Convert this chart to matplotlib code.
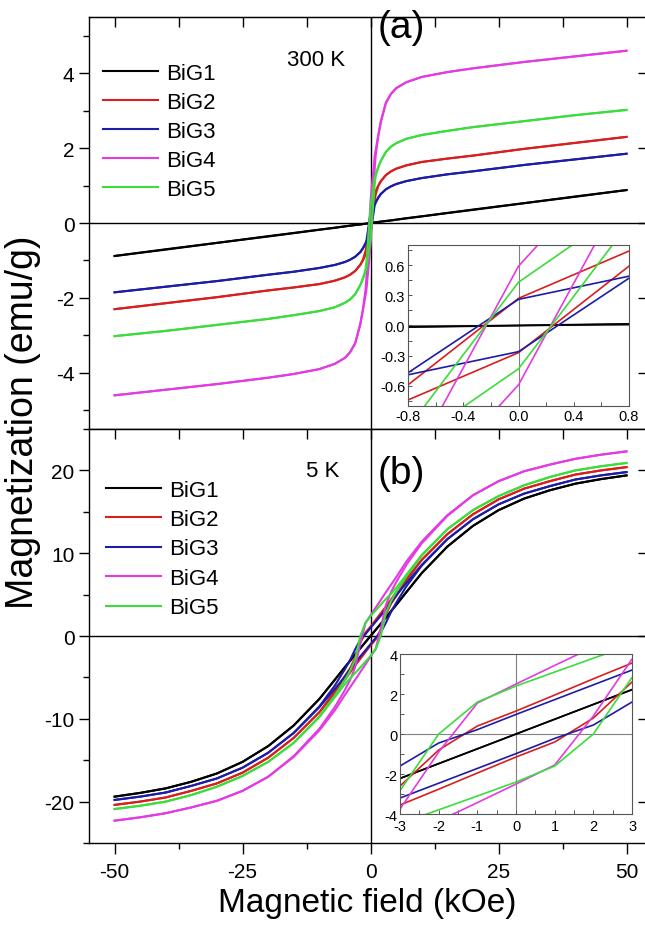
import numpy as np
import matplotlib.pyplot as plt
from matplotlib.ticker import MultipleLocator

plt.rcParams['font.family'] = ['Liberation Sans', 'DejaVu Sans']
plt.rcParams['axes.unicode_minus'] = False

names = ["BiG1", "BiG2", "BiG3", "BiG4", "BiG5"]
colors = ["black", "#d81e1e", "#1c1ca6", "#e23be2", "#3cdc3c"]

# 300 K, field sweep +50 -> -50 kOe (descending); ascending branch uses the reversed field list
H_300 = [50, 40, 30, 20, 15, 10, 7, 5, 4, 3, 2, 1.5, 1, 0.8, 0.4, 0,
         -0.4, -0.8, -1, -1.5, -2, -3, -4, -5, -7, -10, -15, -20, -30, -40, -50]

M300_desc = [
    [0.88, 0.71, 0.53, 0.36, 0.27, 0.18, 0.13, 0.09, 0.07, 0.055, 0.04, 0.03, 0.02, 0.016, 0.009, 0.002,
     -0.006, -0.013, -0.017, -0.026, -0.035, -0.053, -0.07, -0.088, -0.123, -0.176, -0.265, -0.35, -0.53, -0.70, -0.88],
    [2.30, 2.14, 1.98, 1.80, 1.72, 1.63, 1.54, 1.45, 1.38, 1.28, 1.12, 1.0, 0.86, 0.74, 0.505, 0.27,
     -0.16, -0.59, -0.76, -0.98, -1.11, -1.28, -1.38, -1.45, -1.54, -1.63, -1.72, -1.80, -1.98, -2.14, -2.30],
    [1.85, 1.70, 1.55, 1.38, 1.30, 1.20, 1.12, 1.04, 0.98, 0.90, 0.78, 0.68, 0.56, 0.49, 0.375, 0.26,
     -0.105, -0.47, -0.54, -0.67, -0.77, -0.90, -0.98, -1.04, -1.12, -1.20, -1.30, -1.38, -1.55, -1.70, -1.85],
    [4.60, 4.45, 4.30, 4.13, 4.03, 3.90, 3.76, 3.60, 3.45, 3.22, 2.72, 2.35, 1.95, 1.78, 1.19, 0.59,
     -0.42, -1.43, -1.80, -2.30, -2.68, -3.20, -3.45, -3.60, -3.76, -3.90, -4.03, -4.13, -4.30, -4.45, -4.60],
    [3.02, 2.88, 2.72, 2.56, 2.46, 2.35, 2.25, 2.13, 2.04, 1.90, 1.66, 1.50, 1.30, 1.20, 0.81, 0.43,
     -0.29, -1.02, -1.25, -1.48, -1.65, -1.90, -2.04, -2.13, -2.25, -2.35, -2.46, -2.56, -2.72, -2.88, -3.02],
]
M300_asc = [
    [-0.88, -0.71, -0.53, -0.36, -0.27, -0.18, -0.13, -0.09, -0.07, -0.055, -0.04, -0.03, -0.02, -0.016, -0.009, -0.002,
     0.006, 0.013, 0.017, 0.026, 0.035, 0.053, 0.07, 0.088, 0.123, 0.176, 0.265, 0.35, 0.53, 0.70, 0.88],
    [-2.30, -2.14, -1.98, -1.80, -1.72, -1.63, -1.54, -1.45, -1.38, -1.28, -1.12, -1.0, -0.86, -0.74, -0.505, -0.27,
     0.16, 0.59, 0.76, 0.98, 1.11, 1.28, 1.38, 1.45, 1.54, 1.63, 1.72, 1.80, 1.98, 2.14, 2.30],
    [-1.85, -1.70, -1.55, -1.38, -1.30, -1.20, -1.12, -1.04, -0.98, -0.90, -0.78, -0.68, -0.56, -0.49, -0.375, -0.26,
     0.105, 0.47, 0.54, 0.67, 0.77, 0.90, 0.98, 1.04, 1.12, 1.20, 1.30, 1.38, 1.55, 1.70, 1.85],
    [-4.60, -4.45, -4.30, -4.13, -4.03, -3.90, -3.76, -3.60, -3.45, -3.22, -2.72, -2.35, -1.95, -1.78, -1.19, -0.59,
     0.42, 1.43, 1.80, 2.30, 2.68, 3.20, 3.45, 3.60, 3.76, 3.90, 4.03, 4.13, 4.30, 4.45, 4.60],
    [-3.02, -2.88, -2.72, -2.56, -2.46, -2.35, -2.25, -2.13, -2.04, -1.90, -1.66, -1.50, -1.30, -1.20, -0.81, -0.43,
     0.29, 1.02, 1.25, 1.48, 1.65, 1.90, 2.04, 2.13, 2.25, 2.35, 2.46, 2.56, 2.72, 2.88, 3.02],
]

# 5 K
H_5 = [50, 45, 40, 35, 30, 25, 20, 15, 10, 7, 5, 4, 3, 2, 1, 0,
       -1, -2, -3, -4, -5, -7, -10, -15, -20, -25, -30, -35, -40, -45, -50]

M5_desc = [
    [19.4, 18.95, 18.4, 17.6, 16.6, 15.2, 13.3, 10.8, 7.6, 5.3, 3.75, 3.0, 2.22, 1.48, 0.74, 0.0,
     -0.74, -1.48, -2.22, -3.0, -3.75, -5.3, -7.6, -10.8, -13.3, -15.2, -16.6, -17.6, -18.4, -18.95, -19.4],
    [20.4, 20.0, 19.5, 18.7, 17.8, 16.5, 14.7, 12.3, 9.2, 6.9, 5.3, 4.4, 3.55, 2.76, 1.95, 1.15,
     0.4, -0.8, -2.6, -3.9, -4.8, -6.7, -9.2, -12.3, -14.7, -16.5, -17.8, -18.7, -19.5, -20.0, -20.4],
    [19.8, 19.4, 18.9, 18.1, 17.2, 15.9, 14.1, 11.7, 8.6, 6.4, 4.9, 4.05, 3.2, 2.46, 1.72, 0.98,
     0.22, -0.45, -1.6, -2.9, -4.0, -6.0, -8.5, -11.7, -14.1, -15.9, -17.2, -18.1, -18.9, -19.4, -19.8],
    [22.3, 21.9, 21.4, 20.7, 19.9, 18.7, 17.0, 14.6, 11.4, 9.0, 7.1, 6.2, 5.29, 4.35, 3.43, 2.5,
     1.55, -0.9, -3.75, -5.3, -6.5, -8.6, -11.2, -14.5, -17.0, -18.7, -19.9, -20.7, -21.4, -21.9, -22.3],
    [20.9, 20.5, 20.0, 19.2, 18.2, 16.9, 15.2, 12.9, 9.8, 7.4, 5.8, 5.1, 4.48, 3.79, 3.1, 2.4,
     1.6, 0.0, -2.83, -4.2, -5.3, -7.2, -9.7, -12.9, -15.2, -16.9, -18.2, -19.2, -20.0, -20.5, -20.9],
]
M5_asc = [
    [-19.4, -18.95, -18.4, -17.6, -16.6, -15.2, -13.3, -10.8, -7.6, -5.3, -3.75, -3.0, -2.22, -1.48, -0.74, 0.0,
     0.74, 1.48, 2.22, 3.0, 3.75, 5.3, 7.6, 10.8, 13.3, 15.2, 16.6, 17.6, 18.4, 18.95, 19.4],
    [-20.4, -20.0, -19.5, -18.7, -17.8, -16.5, -14.7, -12.3, -9.2, -6.9, -5.3, -4.4, -3.55, -2.76, -1.95, -1.15,
     -0.4, 0.8, 2.6, 3.9, 4.8, 6.7, 9.2, 12.3, 14.7, 16.5, 17.8, 18.7, 19.5, 20.0, 20.4],
    [-19.8, -19.4, -18.9, -18.1, -17.2, -15.9, -14.1, -11.7, -8.6, -6.4, -4.9, -4.05, -3.2, -2.46, -1.72, -0.98,
     -0.22, 0.45, 1.6, 2.9, 4.0, 6.0, 8.5, 11.7, 14.1, 15.9, 17.2, 18.1, 18.9, 19.4, 19.8],
    [-22.3, -21.9, -21.4, -20.7, -19.9, -18.7, -17.0, -14.6, -11.4, -9.0, -7.1, -6.2, -5.29, -4.35, -3.43, -2.5,
     -1.55, 0.9, 3.75, 5.3, 6.5, 8.6, 11.2, 14.5, 17.0, 18.7, 19.9, 20.7, 21.4, 21.9, 22.3],
    [-20.9, -20.5, -20.0, -19.2, -18.2, -16.9, -15.2, -12.9, -9.8, -7.4, -5.8, -5.1, -4.48, -3.79, -3.1, -2.4,
     -1.6, 0.0, 2.83, 4.2, 5.3, 7.2, 9.7, 12.9, 15.2, 16.9, 18.2, 19.2, 20.0, 20.5, 20.9],
]


def draw_loops(ax, H, desc, asc, lw, labels=True):
    for i in range(len(names)):
        ax.plot(H, desc[i], color=colors[i], lw=lw, label=names[i] if labels else None)
        ax.plot(H[::-1], asc[i], color=colors[i], lw=lw)


def style_main(ax, ymaj, ymin):
    ax.set_xlim(-55, 55)
    ax.xaxis.set_major_locator(MultipleLocator(25))
    ax.xaxis.set_minor_locator(MultipleLocator(12.5))
    ax.yaxis.set_major_locator(MultipleLocator(ymaj))
    ax.yaxis.set_minor_locator(MultipleLocator(ymin))
    ax.axhline(0, color='black', lw=1.0, zorder=1)
    ax.axvline(0, color='black', lw=1.0, zorder=1)
    for s in ax.spines.values():
        s.set_linewidth(1.0)
    ax.tick_params(axis='both', which='both', width=1.0, labelsize=15)
    ax.tick_params(axis='y', which='major', direction='out', length=7, left=True, right=False)
    ax.tick_params(axis='y', which='minor', direction='out', length=4, left=True, right=False)
    ax.tick_params(axis='x', which='both', bottom=False, labelbottom=False, top=False)
    sec = ax.secondary_yaxis('right')
    sec.yaxis.set_major_locator(MultipleLocator(ymaj))
    sec.yaxis.set_minor_locator(MultipleLocator(ymin))
    sec.tick_params(which='major', direction='in', length=10, width=1.0, labelright=False)
    sec.tick_params(which='minor', direction='in', length=5, width=1.0)
    top = ax.secondary_xaxis('top')
    top.xaxis.set_major_locator(MultipleLocator(25))
    top.xaxis.set_minor_locator(MultipleLocator(12.5))
    top.tick_params(which='both', direction='in', length=7, width=1.0, labeltop=False)


def style_inset(ax, xlim, ylim, xt, yt, xfmt, yfmt):
    ax.set_xlim(*xlim)
    ax.set_ylim(*ylim)
    ax.set_xticks(xt)
    ax.set_yticks(yt)
    ax.set_xticklabels([xfmt.format(v) for v in xt])
    ax.set_yticklabels([yfmt.format(v) for v in yt])
    ax.axhline(0, color='#808080', lw=0.8, zorder=1)
    ax.axvline(0, color='#808080', lw=0.8, zorder=1)
    for s in ax.spines.values():
        s.set_linewidth(0.8)
        s.set_color('#555555')
    ax.tick_params(axis='both', which='both', direction='in', length=3, width=0.7,
                   labelsize=10.5, pad=2, colors='#555555', labelcolor='black')


fig = plt.figure(figsize=(6.45, 9.29), dpi=100)

ax1 = fig.add_axes([0.138, 0.5371, 0.873, 0.4435])
draw_loops(ax1, H_300, M300_desc, M300_asc, 1.5)
ax1.set_ylim(-5.5, 5.5)
style_main(ax1, 2, 1)
ax1.legend(loc='upper left', bbox_to_anchor=(0.025, 0.888), frameon=False, fontsize=16,
           handlelength=2.48, handletextpad=0.35, labelspacing=0.36, borderpad=0, borderaxespad=0)
ax1.text(0.403, 0.898, "300 K", transform=ax1.transAxes, fontsize=16, ha='center', va='center')
ax1.text(0.513, 0.975, "(a)", transform=ax1.transAxes, fontsize=28, ha='left', va='center')

ax2 = fig.add_axes([0.138, 0.0915, 0.873, 0.4456])
draw_loops(ax2, H_5, M5_desc, M5_asc, 1.5)
ax2.set_ylim(-25, 25)
style_main(ax2, 10, 5)
ax2.tick_params(axis='x', which='major', direction='out', length=8, bottom=True, labelbottom=True, pad=6)
ax2.tick_params(axis='x', which='minor', direction='out', length=4, bottom=True)
ax2.set_xticks([-50, -25, 0, 25, 50])
ax2.legend(loc='upper left', bbox_to_anchor=(0.03, 0.878), frameon=False, fontsize=16,
           handlelength=2.48, handletextpad=0.35, labelspacing=0.38, borderpad=0, borderaxespad=0)
ax2.text(0.415, 0.899, "5 K", transform=ax2.transAxes, fontsize=16, ha='center', va='center')
ax2.text(0.513, 0.895, "(b)", transform=ax2.transAxes, fontsize=28, ha='left', va='center')

fig.text(0.035, 0.545, "Magnetization (emu/g)", rotation=90, fontsize=27, ha='center', va='center')
fig.text(0.57, 0.027, "Magnetic field (kOe)", fontsize=24, ha='center', va='center')

ins1 = fig.add_axes([0.6326, 0.5619, 0.3426, 0.1733])
draw_loops(ins1, H_300, M300_desc, M300_asc, 1.2, labels=False)
style_inset(ins1, (-0.8, 0.8), (-0.8, 0.8), [-0.8, -0.4, 0.0, 0.4, 0.8],
            [-0.6, -0.3, 0.0, 0.3, 0.6], "{:.1f}", "{:.1f}")
ins1.xaxis.set_minor_locator(MultipleLocator(0.2))
ins1.yaxis.set_minor_locator(MultipleLocator(0.15))

ins2 = fig.add_axes([0.6202, 0.1227, 0.3597, 0.1722])
draw_loops(ins2, H_5, M5_desc, M5_asc, 1.2, labels=False)
style_inset(ins2, (-3, 3), (-4, 4), [-3, -2, -1, 0, 1, 2, 3], [-4, -2, 0, 2, 4], "{:.0f}", "{:.0f}")
ins2.xaxis.set_minor_locator(MultipleLocator(0.5))
ins2.yaxis.set_minor_locator(MultipleLocator(1))
ins2.tick_params(axis='x', which='major', pad=3.5)

fig.savefig("out.png", dpi=100)
